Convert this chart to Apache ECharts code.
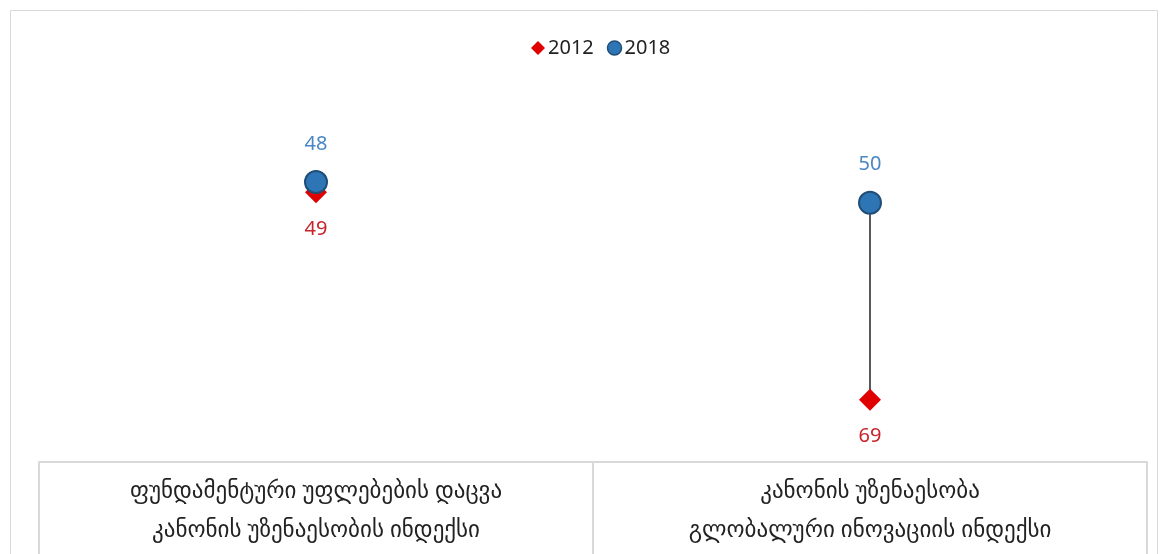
<!DOCTYPE html>
<html>
<head>
<meta charset="utf-8">
<script src="https://cdn.jsdelivr.net/npm/echarts@6/dist/echarts.min.js"></script>
<style>
  html, body { margin: 0; padding: 0; background: #fff; }
  #chart { width: 1165px; height: 554px; }
</style>
</head>
<body>
<div id="chart"></div>
<script>
// categories (two lines each)
var categories = [
  'ფუნდამენტური უფლებების დაცვა\nკანონის უზენაესობის ინდექსი',
  'კანონის უზენაესობა\nგლობალური ინოვაციის ინდექსი'
]
var values2012 = [49, 69]
var values2018 = [48, 50]

var FONT = "'Noto Sans', 'DejaVu Sans', sans-serif"

var chart = echarts.init(document.getElementById('chart'))

chart.setOption({
  animation: false,
  textStyle: { fontFamily: FONT },
  graphic: [{
    type: 'rect',
    shape: { x: 10.5, y: 10.5, width: 1147, height: 560 },
    style: { fill: 'none', stroke: '#d9d9d9', lineWidth: 1 },
    silent: true
  }],
  legend: {
    top: 33,
    left: 526,
    itemGap: 13,
    itemWidth: 14,
    itemHeight: 14,
    textStyle: { fontSize: 20, color: '#222', fontFamily: FONT, padding: [0, 0, 0, -2] },
    data: [
      { name: '2012', icon: 'diamond', itemStyle: { color: '#e00000', opacity: 1 } },
      { name: '2018', icon: 'circle', itemStyle: { color: '#2e75b6', borderColor: '#1f4e79', borderWidth: 1.5, opacity: 1 } }
    ]
  },
  grid: {
    left: 39,
    right: 18,
    top: 99,
    bottom: 92
  },
  xAxis: {
    type: 'category',
    data: categories,
    boundaryGap: true,
    axisLine: { show: true, lineStyle: { color: '#d9d9d9', width: 2 } },
    axisTick: { show: true, length: 100, lineStyle: { color: '#d9d9d9', width: 2 } },
    axisLabel: {
      fontSize: 23,
      color: '#222',
      lineHeight: 39,
      margin: 10,
      fontFamily: FONT
    },
    splitLine: { show: false }
  },
  yAxis: {
    type: 'value',
    inverse: true,
    min: 40,
    max: 75,
    show: false,
    splitLine: { show: false }
  },
  series: [
    {
      name: 'connector',
      type: 'custom',
      silent: true,
      z: 1,
      data: values2012.map(function (v, i) { return [i, values2018[i], v] }),
      encode: { x: 0, y: [1, 2] },
      renderItem: function (params, api) {
        var p1 = api.coord([api.value(0), api.value(1)])
        var p2 = api.coord([api.value(0), api.value(2)])
        return {
          type: 'line',
          shape: { x1: p1[0], y1: p1[1], x2: p2[0], y2: p2[1] },
          style: { stroke: '#595959', lineWidth: 2 }
        }
      }
    },
    {
      name: '2012',
      type: 'scatter',
      symbol: 'diamond',
      symbolSize: 22,
      z: 2,
      itemStyle: { color: '#e00000', opacity: 1 },
      label: {
        show: true,
        position: 'inside',
        offset: [0, 37],
        fontSize: 20,
        color: '#c8242b',
        fontFamily: FONT
      },
      data: values2012
    },
    {
      name: '2018',
      type: 'scatter',
      symbol: 'circle',
      symbolSize: 22,
      z: 3,
      itemStyle: { color: '#2e75b6', borderColor: '#1f4e79', borderWidth: 2, opacity: 1 },
      label: {
        show: true,
        position: 'inside',
        offset: [0, -38],
        fontSize: 20,
        color: '#4a86c5',
        fontFamily: FONT
      },
      data: values2018
    }
  ]
})
</script>
</body>
</html>
